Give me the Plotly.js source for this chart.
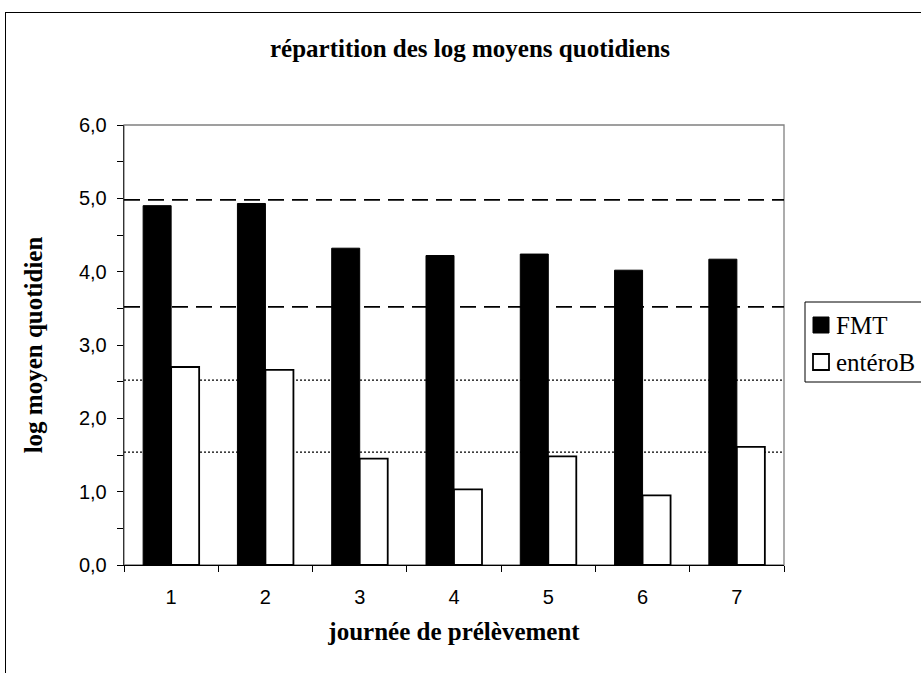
<!DOCTYPE html>
<html>
<head>
<meta charset="utf-8">
<script src="https://cdn.plot.ly/plotly-3.0.1.min.js"></script>
<style>
html,body{margin:0;padding:0;background:#fff;overflow:hidden;}
#wrap{position:relative;width:921px;height:673px;overflow:hidden;}
#chart{width:921px;height:673px;}
#frame{position:absolute;left:5px;top:12px;width:1400px;height:1400px;border:1px solid #000;pointer-events:none;}
</style>
</head>
<body>
<div id="wrap"><div id="chart"></div><div id="frame"></div></div>
<script>
const categories = ['1','2','3','4','5','6','7'];
const seriesNames = ['FMT', 'entéroB'];
const fmtValues = [4.90, 4.93, 4.32, 4.22, 4.24, 4.02, 4.17];
const enteroValues = [2.70, 2.66, 1.45, 1.03, 1.48, 0.95, 1.61];
const dashedLevels = [4.98, 3.52];
const dottedLevels = [2.52, 1.54];
const yTicks = [0, 1, 2, 3, 4, 5, 6];

const serif = 'Liberation Serif, Times New Roman, serif';
const sans = 'Liberation Sans, Arial, sans-serif';

const fills = ['#000', '#fff'];
const lineWidths = [1, 1.8];

const traces = [
  {type:'bar', name:seriesNames[0], x:categories, y:fmtValues,
   marker:{color:fills[0], line:{color:'#000', width:lineWidths[0]}}},
  {type:'bar', name:seriesNames[1], x:categories, y:enteroValues,
   marker:{color:fills[1], line:{color:'#000', width:lineWidths[1]}}}
];

// pixel -> paper helpers (plot area: x 124..784, y 125..565)
const px = x => (x - 124) / 660;
const py = y => (565 - y) / 440;

const shapes = [];
// plot area border (grey)
shapes.push({type:'rect', xref:'paper', yref:'paper', x0:0, x1:1, y0:0, y1:1,
  line:{color:'#808080', width:1.3}, fillcolor:'rgba(0,0,0,0)', layer:'below'});
dashedLevels.forEach(v => shapes.push({type:'line', xref:'paper', yref:'y', x0:0, x1:1, y0:v, y1:v,
  line:{color:'#000', width:1.8, dash:'16px,8px'}, layer:'below'}));
dottedLevels.forEach(v => shapes.push({type:'line', xref:'paper', yref:'y', x0:0, x1:1, y0:v, y1:v,
  line:{color:'#000', width:1.2, dash:'2px,2px'}, layer:'below'}));

// legend box and swatches
shapes.push({type:'rect', xref:'paper', yref:'paper', x0:px(805), x1:px(960), y0:py(382), y1:py(302),
  line:{color:'#000', width:1}, fillcolor:'#fff'});
const rowY = [325, 362];
const annotations = [];
seriesNames.forEach((n, i) => {
  shapes.push({type:'rect', xref:'paper', yref:'paper', x0:px(813), x1:px(829),
    y0:py(rowY[i] + 8), y1:py(rowY[i] - 8),
    line:{color:'#000', width:i === 0 ? 1 : 1.8}, fillcolor:fills[i]});
  annotations.push({xref:'paper', yref:'paper', x:px(834), y:py(rowY[i]), xanchor:'left', yanchor:'middle',
    text:n, showarrow:false, font:{family:serif, size:25, color:'#000'}});
});

const layout = {
  width:921, height:673,
  margin:{l:124, r:137, t:125, b:108, autoexpand:false},
  paper_bgcolor:'#fff', plot_bgcolor:'rgba(0,0,0,0)',
  separators:', ',
  barmode:'group', bargap:0.406, bargroupgap:0,
  showlegend:false,
  title:{text:'répartition des log moyens quotidiens', x:470/921, xref:'container', xanchor:'center',
    y:1-48/673, yref:'container', yanchor:'middle',
    font:{family:serif, size:25, color:'#000', weight:'bold'}},
  font:{family:sans, size:20, color:'#000'},
  xaxis:{type:'category', tickson:'boundaries', ticks:'outside', ticklen:6, tickcolor:'#000', tickwidth:1,
    ticklabelstandoff:14,
    showline:true, linecolor:'#000', linewidth:1.3, showgrid:false, zeroline:false,
    tickfont:{family:sans, size:20, color:'#000'},
    title:{text:'journée de prélèvement', standoff:15,
      font:{family:serif, size:25, color:'#000', weight:'bold'}}},
  yaxis:{range:[0,6], tickvals:yTicks, tickformat:'.1f', ticks:'outside', ticklen:6, tickcolor:'#000', tickwidth:1,
    ticklabelstandoff:6,
    minor:{dtick:0.5, ticks:'outside', ticklen:6, tickcolor:'#000', tickwidth:1, showgrid:false},
    showline:true, linecolor:'#333', linewidth:1.3, showgrid:false, zeroline:false,
    tickfont:{family:sans, size:20, color:'#000'},
    title:{text:'log moyen quotidien', standoff:29,
      font:{family:serif, size:25, color:'#000', weight:'bold'}}},
  shapes:shapes,
  annotations:annotations
};

Plotly.newPlot('chart', traces, layout, {displayModeBar:false, staticPlot:true});
</script>
</body>
</html>
